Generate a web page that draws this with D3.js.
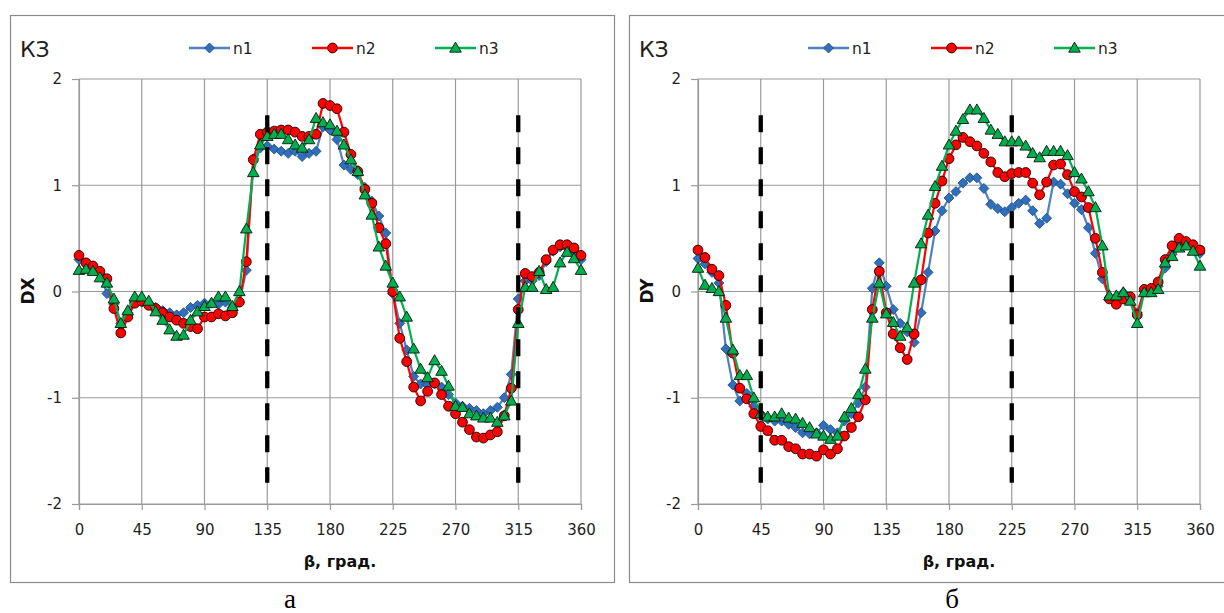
<!DOCTYPE html>
<html><head><meta charset="utf-8">
<script src="https://cdn.jsdelivr.net/npm/d3@7"></script>
<style>body{margin:0;background:#fff;} svg{display:block}</style>
</head><body><svg id="c" width="1224" height="613"></svg>
<script>
// ---- data ----
const angles = [0,5,10,15,20,25,30,35,40,45,50,55,60,65,70,75,80,85,90,95,100,105,110,115,120,125,130,135,140,145,150,155,160,165,170,175,180,185,190,195,200,205,210,215,220,225,230,235,240,245,250,255,260,265,270,275,280,285,290,295,300,305,310,315,320,325,330,335,340,345,350,355,360];
const seriesNames = ["n1","n2","n3"];
const xTicks = [0,45,90,135,180,225,270,315,360];
const yTicks = [-2,-1,0,1,2];

const dxN1 = [0.30,0.26,0.22,0.17,-0.02,-0.12,-0.30,-0.20,-0.10,-0.10,-0.12,-0.15,-0.18,-0.20,-0.22,-0.20,-0.15,-0.13,-0.11,-0.11,-0.12,-0.10,-0.15,-0.10,0.20,1.25,1.35,1.37,1.34,1.32,1.30,1.32,1.27,1.30,1.32,1.55,1.52,1.43,1.19,1.15,1.10,0.98,0.85,0.71,0.55,-0.02,-0.30,-0.55,-0.80,-0.87,-0.88,-0.87,-0.90,-0.97,-1.05,-1.08,-1.10,-1.12,-1.15,-1.12,-1.09,-1.00,-0.78,-0.07,0.10,0.10,0.15,0.28,0.38,0.42,0.41,0.38,0.30];
const dxN2 = [0.34,0.27,0.24,0.19,0.12,-0.16,-0.39,-0.24,-0.11,-0.09,-0.13,-0.16,-0.20,-0.24,-0.27,-0.30,-0.33,-0.35,-0.24,-0.24,-0.21,-0.23,-0.20,-0.10,0.28,1.24,1.48,1.50,1.51,1.52,1.52,1.50,1.46,1.46,1.48,1.77,1.75,1.72,1.50,1.29,1.13,0.96,0.83,0.60,0.45,0.00,-0.44,-0.66,-0.90,-1.03,-0.94,-0.86,-0.97,-1.08,-1.15,-1.23,-1.30,-1.37,-1.38,-1.35,-1.32,-1.17,-0.91,-0.17,0.17,0.14,0.18,0.30,0.39,0.44,0.44,0.41,0.34];
const dxN3 = [0.20,0.21,0.19,0.13,0.08,-0.07,-0.30,-0.18,-0.05,-0.05,-0.09,-0.19,-0.27,-0.36,-0.42,-0.41,-0.27,-0.19,-0.14,-0.11,-0.05,-0.05,-0.14,0.00,0.59,1.12,1.38,1.46,1.48,1.48,1.43,1.38,1.35,1.43,1.63,1.59,1.57,1.51,1.38,1.24,1.13,0.91,0.72,0.42,0.24,0.08,-0.05,-0.24,-0.54,-0.73,-0.81,-0.65,-0.75,-0.89,-1.08,-1.09,-1.15,-1.17,-1.19,-1.19,-1.23,-1.17,-1.03,-0.30,0.04,0.04,0.19,0.02,0.04,0.27,0.37,0.31,0.20];

const dyN1 = [0.31,0.26,0.18,0.08,-0.54,-0.88,-1.03,-0.96,-1.08,-1.15,-1.20,-1.22,-1.22,-1.25,-1.28,-1.33,-1.34,-1.33,-1.26,-1.30,-1.33,-1.22,-1.15,-1.05,-0.90,0.03,0.27,0.05,-0.17,-0.30,-0.38,-0.48,-0.20,0.18,0.57,0.76,0.88,0.94,1.02,1.07,1.07,0.97,0.82,0.78,0.75,0.79,0.83,0.86,0.76,0.64,0.69,1.03,1.01,0.92,0.83,0.77,0.60,0.36,0.12,-0.06,-0.08,-0.01,-0.08,-0.20,0.00,0.00,0.05,0.22,0.35,0.43,0.45,0.42,0.36];
const dyN2 = [0.39,0.32,0.21,0.15,-0.13,-0.58,-0.91,-1.01,-1.15,-1.27,-1.31,-1.40,-1.40,-1.46,-1.48,-1.53,-1.53,-1.55,-1.49,-1.53,-1.48,-1.36,-1.28,-1.18,-1.02,-0.17,0.19,-0.20,-0.40,-0.53,-0.64,-0.40,0.11,0.55,0.83,1.04,1.25,1.38,1.45,1.41,1.37,1.30,1.22,1.12,1.08,1.11,1.12,1.12,1.02,0.91,1.03,1.19,1.20,1.10,0.94,0.89,0.79,0.50,0.18,-0.07,-0.12,-0.07,-0.05,-0.22,0.02,0.03,0.09,0.30,0.43,0.50,0.47,0.44,0.39];
const dyN3 = [0.22,0.06,0.03,0.00,-0.25,-0.55,-0.79,-0.79,-1.00,-1.15,-1.18,-1.18,-1.15,-1.19,-1.20,-1.24,-1.28,-1.34,-1.36,-1.39,-1.36,-1.18,-1.10,-0.97,-0.73,-0.25,0.08,-0.21,-0.29,-0.42,-0.34,0.08,0.45,0.72,0.99,1.18,1.38,1.51,1.62,1.71,1.71,1.63,1.52,1.48,1.41,1.41,1.41,1.37,1.30,1.26,1.32,1.32,1.32,1.28,1.12,1.06,0.94,0.79,0.43,-0.04,-0.04,-0.01,-0.09,-0.30,-0.01,-0.01,0.02,0.27,0.33,0.41,0.43,0.38,0.24];

const dashAnglesA = [135, 315];
const dashAnglesB = [45, 225];
const dashSpan = [1.66, -1.8];

// ---- drawing ----
const svg = d3.select("#c");
svg.append("rect").attr("width",1224).attr("height",613).attr("fill","#fff");

const styles = [
  {line:"#4f81bd", fill:"#2f6fbc", stroke:"#1f4e84", sym:"diamond"},
  {line:"#ff0000", fill:"#ff0000", stroke:"#1a0000", sym:"circle"},
  {line:"#00b050", fill:"#00b050", stroke:"#0a1a0a", sym:"triangle"}
];
const FONT = "'DejaVu Sans', Verdana, sans-serif";

function marker(g, sym, cx, cy, st) {
  if (sym === "circle") {
    g.append("circle").attr("cx",cx).attr("cy",cy).attr("r",4.9)
      .attr("fill",st.fill).attr("stroke",st.stroke).attr("stroke-width",0.9);
  } else if (sym === "diamond") {
    g.append("path").attr("d", d3.symbol(d3.symbolSquare, 50)())
      .attr("transform",`translate(${cx},${cy}) rotate(45)`)
      .attr("fill",st.fill).attr("stroke",st.stroke).attr("stroke-width",0.8);
  } else {
    g.append("path").attr("d", d3.symbol(d3.symbolTriangle, 58)())
      .attr("transform",`translate(${cx},${cy+0.8})`)
      .attr("fill",st.fill).attr("stroke",st.stroke).attr("stroke-width",0.9);
  }
}

function panel(x0, frameX, seriesArr, yLabel, dashes, caption, captionX) {
  const x = d3.scaleLinear().domain([0,360]).range([x0, x0+502]);
  const y = d3.scaleLinear().domain([-2,2]).range([504, 79]);
  const g = svg.append("g");

  // chart frame
  g.append("rect").attr("x",frameX+0.5).attr("y",15.5).attr("width",604).attr("height",567)
    .attr("fill","none").attr("stroke","#8c8c8c").attr("stroke-width",1.2);

  // gridlines
  g.append("g").selectAll("line").data(xTicks).join("line")
    .attr("x1",d=>x(d)).attr("x2",d=>x(d)).attr("y1",y(2)).attr("y2",y(-2))
    .attr("stroke","#9a9a9a").attr("stroke-width",1.2);
  g.append("g").selectAll("line").data(yTicks).join("line")
    .attr("x1",x(0)).attr("x2",x(360)).attr("y1",d=>y(d)).attr("y2",d=>y(d))
    .attr("stroke","#9a9a9a").attr("stroke-width",1.2);

  // axes
  const fmt = d => String(d);
  const ax = g.append("g").attr("transform",`translate(0,${y(-2)})`)
    .call(d3.axisBottom(x).tickValues(xTicks).tickSize(6).tickPadding(14).tickFormat(fmt));
  const ay = g.append("g").attr("transform",`translate(${x(0)},0)`)
    .call(d3.axisLeft(y).tickValues(yTicks).tickSize(7).tickPadding(10).tickFormat(fmt));
  [ax, ay].forEach(a => {
    a.select(".domain").attr("stroke","#9a9a9a").attr("stroke-width",1.2);
    a.selectAll(".tick line").attr("stroke","#9a9a9a").attr("stroke-width",1.2);
    a.selectAll(".tick text").attr("fill","#1e1e1e").style("font-family",FONT).style("font-size","15px");
  });

  // series
  seriesArr.forEach((vals, i) => {
    const st = styles[i];
    const line = d3.line().x((d,j)=>x(angles[j])).y(d=>y(d));
    g.append("path").datum(vals).attr("d",line).attr("fill","none")
      .attr("stroke",st.line).attr("stroke-width",2.2).attr("stroke-linejoin","round");
    const mg = g.append("g");
    vals.forEach((v,j) => marker(mg, st.sym, x(angles[j]), y(v), st));
  });

  // dashed verticals
  g.append("g").selectAll("line").data(dashes).join("line")
    .attr("x1",d=>x(d)).attr("x2",d=>x(d)).attr("y1",y(dashSpan[0])).attr("y2",y(dashSpan[1]))
    .attr("stroke","#000").attr("stroke-width",4.3).attr("stroke-dasharray","17,15");

  // legend
  const legOff = [110, 233, 356];
  seriesNames.forEach((n,i) => {
    const st = styles[i];
    const lx = x0 + legOff[i];
    g.append("line").attr("x1",lx).attr("x2",lx+41).attr("y1",48).attr("y2",48)
      .attr("stroke",st.line).attr("stroke-width",2.5);
    marker(g, st.sym, lx+20.5, 48, st);
    g.append("text").attr("x",lx+44).attr("y",54).text(n)
      .attr("fill","#1e1e1e").style("font-family",FONT).style("font-size","15.5px");
  });

  // title КЗ
  g.append("text").attr("x",x0-59).attr("y",57).text("КЗ")
    .attr("fill","#1e1e1e").style("font-family",FONT).style("font-size","22px");

  // y label
  g.append("text").attr("transform",`translate(${x0-45},291) rotate(-90)`)
    .attr("text-anchor","middle").text(yLabel)
    .attr("fill","#111").style("font-family",FONT).style("font-size","17px").style("font-weight","bold");

  // x label
  g.append("text").attr("x",x0+261).attr("y",567).attr("text-anchor","middle").text("β, град.")
    .attr("fill","#111").style("font-family",FONT).style("font-size","16px").style("font-weight","bold");

  // caption
  svg.append("text").attr("x",captionX).attr("y",608).attr("text-anchor","middle").text(caption)
    .attr("fill","#000").style("font-family","'Liberation Serif', 'Times New Roman', serif").style("font-size","27px");
}

panel(79, 10, [dxN1, dxN2, dxN3], "DX", dashAnglesA, "а", 290);
panel(698, 629, [dyN1, dyN2, dyN3], "DY", dashAnglesB, "б", 952);
</script></body></html>
